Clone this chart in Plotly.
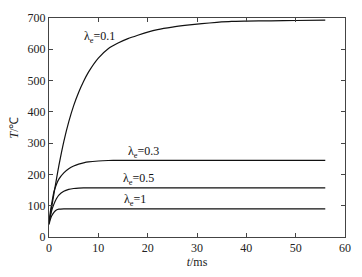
import plotly.graph_objects as go

t = [0, 0.25, 0.5, 1, 1.5, 2, 3, 4, 5, 6, 7, 8, 10, 12, 14, 16, 18, 20, 22, 25, 28, 31, 34, 37, 40, 45, 50, 56]
T_01 = [45, 68, 92, 138, 184, 228, 305, 368, 420, 462, 497, 527, 572, 602, 620, 634, 645, 655, 663, 671, 677, 682, 686, 689, 690, 691, 692, 693]
T_03 = [45, 78, 102, 145, 168, 185, 205, 218, 227, 233, 237, 240, 243, 244.5, 245, 245, 245, 245, 245, 245, 245, 245, 245, 245, 245, 245, 245, 245]
T_05 = [45, 65, 82, 105, 122, 134, 146, 152, 155, 156.5, 157, 157, 157, 157, 157, 157, 157, 157, 157, 157, 157, 157, 157, 157, 157, 157, 157, 157]
T_1 = [40, 55, 66, 79, 86, 89, 90, 90, 90, 90, 90, 90, 90, 90, 90, 90, 90, 90, 90, 90, 90, 90, 90, 90, 90, 90, 90, 90]

labels = ["λ<sub>e</sub>=0.1", "λ<sub>e</sub>=0.3", "λ<sub>e</sub>=0.5", "λ<sub>e</sub>=1"]
label_x = [10.2, 19.2, 18.2, 17.5]
label_y = [638, 272, 184, 118]

x_ticks = [0, 10, 20, 30, 40, 50, 60]
y_ticks = [0, 100, 200, 300, 400, 500, 600, 700]

font = "Liberation Serif"

fig = go.Figure()
for ys in [T_01, T_03, T_05, T_1]:
    fig.add_trace(go.Scatter(x=t, y=ys, mode="lines", line=dict(color="#111", width=1.2, shape="spline", smoothing=0.6),
                             showlegend=False, hoverinfo="skip"))

for lab, lx, ly in zip(labels, label_x, label_y):
    fig.add_annotation(x=lx, y=ly, text=lab, showarrow=False,
                       font=dict(family=font, size=12, color="#111"))

axis_common = dict(showline=True, linecolor="#444", linewidth=1, mirror="ticks",
                   ticks="inside", ticklen=4, tickcolor="#444", showgrid=False, zeroline=False,
                   tickfont=dict(family=font, size=12, color="#222"))

fig.update_xaxes(range=[0, 60], tickvals=x_ticks,
                 title=dict(text="<i>t</i>/ms", font=dict(family=font, size=12, color="#222"), standoff=2),
                 **axis_common)
fig.update_yaxes(range=[0, 700], tickvals=y_ticks,
                 title=dict(text="<i>T</i>/℃", font=dict(family=font, size=12, color="#222"), standoff=6),
                 **axis_common)

fig.update_layout(width=362, height=277, margin=dict(l=49, r=16, t=11, b=32),
                  plot_bgcolor="white", paper_bgcolor="white")

fig.write_html("out.html")
